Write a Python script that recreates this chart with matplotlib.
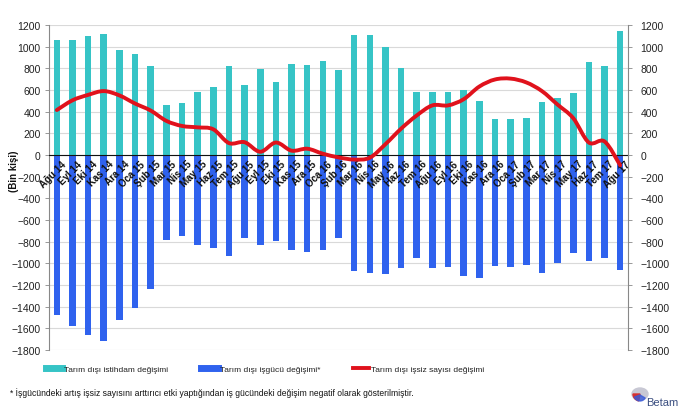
import matplotlib
matplotlib.use("Agg")
import matplotlib.pyplot as plt
import numpy as np
from matplotlib.path import Path
from matplotlib.patches import PathPatch, Ellipse, Wedge
from matplotlib.lines import Line2D
from matplotlib.transforms import ScaledTranslation

plt.rcParams['font.family'] = ['Liberation Sans', 'DejaVu Sans']

months = ["Ağu 14", "Eyl 14", "Eki 14", "Kas 14", "Ara 14", "Oca 15", "Şub 15", "Mar 15",
          "Nis 15", "May 15", "Haz 15", "Tem 15", "Ağu 15", "Eyl 15", "Eki 15", "Kas 15",
          "Ara 15", "Oca 16", "Şub 16", "Mar 16", "Nis 16", "May 16", "Haz 16", "Tem 16",
          "Ağu 16", "Eyl 16", "Eki 16", "Kas 16", "Ara 16", "Oca 17", "Şub 17", "Mar 17",
          "Nis 17", "May 17", "Haz 17", "Tem 17", "Ağu 17"]

employment = [1057, 1066, 1100, 1118, 970, 931, 817, 461, 479, 578, 624, 823, 645, 793, 670, 836,
              829, 866, 786, 1112, 1112, 995, 799, 583, 583, 577, 599, 500, 329, 329, 344, 491,
              525, 571, 860, 826, 1145]

labor_force = [-1479, -1578, -1661, -1713, -1525, -1415, -1237, -787, -747, -833, -861, -932,
               -763, -827, -793, -873, -892, -876, -769, -1073, -1092, -1098, -1043, -950,
               -1043, -1034, -1113, -1132, -1024, -1036, -1018, -1086, -993, -907, -978, -950,
               -1061]

unemployed = [415, 505, 555, 590, 550, 475, 410, 315, 268, 255, 237, 110, 118, 30, 115, 40,
              58, 12, -22, -42, -25, 100, 243, 365, 458, 458, 515, 632, 697, 705, 670, 590,
              465, 340, 115, 125, -95]

yticks = list(range(-1800, 1201, 200))

legend_labels = ["Tarım dışı istihdam değişimi", "Tarım dışı işgücü değişimi*",
                 "Tarım dışı işsiz sayısı değişimi"]
footnote = ("* İşgücündeki artış işsiz sayısını arttırıcı etki yaptığından iş gücündeki "
            "değişim negatif olarak gösterilmiştir.")

TEAL = "#36C4C6"
BLUE = "#2F62EE"
RED = "#E0121C"
W, H = 689, 414

fig = plt.figure(figsize=(W / 100, H / 100), dpi=100)
ax = fig.add_axes([49 / W, 1 - 351 / H, (628 - 49) / W, (351 - 26) / H])

x = np.arange(len(months))
ax.set_axisbelow(True)
ax.bar(x, employment, width=0.42, color=TEAL, zorder=2)
ax.bar(x, labor_force, width=0.42, color=BLUE, zorder=2)
ax.axhline(0, color="#111111", lw=0.8, zorder=3)

# smooth line (Catmull-Rom -> cubic Bezier) through the data points
pts = np.column_stack([x, unemployed]).astype(float)
verts = [pts[0]]
codes = [Path.MOVETO]
n = len(pts)
for i in range(n - 1):
    p0 = pts[i - 1] if i > 0 else pts[i]
    p1 = pts[i]
    p2 = pts[i + 1]
    p3 = pts[i + 2] if i + 2 < n else pts[i + 1]
    c1 = p1 + (p2 - p0) / 6.0
    c2 = p2 - (p3 - p1) / 6.0
    verts += [c1, c2, p2]
    codes += [Path.CURVE4] * 3
ax.add_patch(PathPatch(Path(verts, codes), facecolor='none', edgecolor=RED, lw=2.8,
                       zorder=6, capstyle='round', joinstyle='round'))

ax.set_xlim(-0.5, len(months) - 0.5)
ax.set_ylim(-1800, 1200)
ax.set_yticks(yticks)
ax.yaxis.grid(True, color="#D9D9D9", lw=0.8)
ax.tick_params(axis='y', labelsize=7.5, colors="#222222", length=3, width=0.6, pad=3,
               color="#888888")
for s in ['top', 'right', 'bottom']:
    ax.spines[s].set_visible(False)
ax.spines['left'].set_color("#888888")
ax.spines['left'].set_linewidth(0.8)

ax.set_xticks([])
off = ScaledTranslation(8 / 100, -7 / 100, fig.dpi_scale_trans)
for xi, m in zip(x, months):
    ax.text(xi, 0, m, rotation=45, ha='right', va='center', rotation_mode='anchor',
            fontsize=7, fontweight='bold', color="#111111", zorder=5,
            transform=ax.transData + off)

ax2 = ax.twinx()
ax2.set_ylim(-1800, 1200)
ax2.set_yticks(yticks)
ax2.tick_params(axis='y', labelsize=7.5, colors="#222222", length=3, width=0.6, pad=6,
                color="#888888")
for s in ['top', 'left', 'bottom']:
    ax2.spines[s].set_visible(False)
ax2.spines['right'].set_color("#888888")
ax2.spines['right'].set_linewidth(0.8)

fig.text(14 / W, 1 - 171 / H, "(Bin kişi)", rotation=90, ha='center', va='center',
         fontsize=7, fontweight='bold', color="#111111")

handles = [Line2D([], [], color=TEAL, lw=5), Line2D([], [], color=BLUE, lw=5),
           Line2D([], [], color=RED, lw=2.8)]
fig.legend(handles, legend_labels, ncol=3, loc='center left',
           bbox_to_anchor=(38 / W, 1 - 370 / H), frameon=False, fontsize=6,
           handlelength=2.0, handletextpad=0.25, columnspacing=3.9, labelcolor="#222222")

fig.text(10 / W, 1 - 393 / H, footnote, ha='left', va='center', fontsize=6.15, color="#111111")

# Betam logo (simple)
logo = fig.add_axes([628 / W, 1 - 412 / H, 58 / W, 32 / H])
logo.set_xlim(0, 58)
logo.set_ylim(0, 32)
logo.axis('off')
logo.add_patch(Ellipse((12, 17), 16, 12, color="#C8C8D4"))
logo.add_patch(Wedge((12, 17), 7, 180, 260, color="#D83030"))
logo.add_patch(Wedge((12, 16), 6, 200, 330, color="#3A5BD8", alpha=0.8))
logo.text(18, 9, "Betam", fontsize=8, color="#3A4E80", ha='left', va='center')

fig.savefig("out.png", dpi=100)
